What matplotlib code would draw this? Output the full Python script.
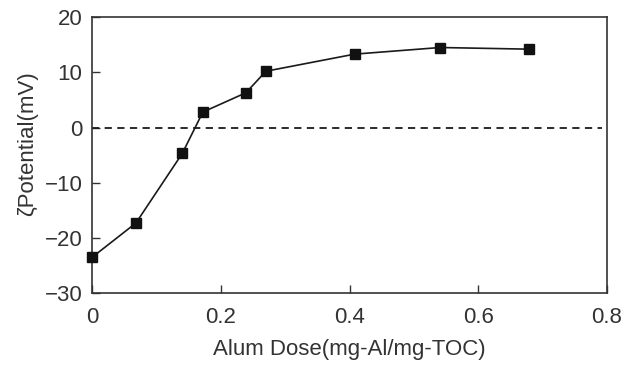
import matplotlib
matplotlib.use('Agg')
import matplotlib.pyplot as plt

# data
alum_dose = [0.0, 0.068, 0.140, 0.172, 0.239, 0.270, 0.408, 0.541, 0.679]
zeta_mv = [-23.5, -17.3, -4.7, 2.8, 6.3, 10.2, 13.3, 14.5, 14.2]

xticks = [0, 0.2, 0.4, 0.6, 0.8]
xtick_labels = ['0', '0.2', '0.4', '0.6', '0.8']
yticks = [-30, -20, -10, 0, 10, 20]
ytick_labels = ['\u221230', '\u221220', '\u221210', '0', '10', '20']

plt.rcParams['font.family'] = ['Liberation Sans', 'DejaVu Sans']
text_col = '#333333'

fig = plt.figure(figsize=(6.23, 3.65), dpi=100)
ax = fig.add_axes([0.148, 0.197, 0.826, 0.756])

ax.plot(alum_dose, zeta_mv, color='#1a1a1a', lw=1.2, marker='s',
        markersize=7, markerfacecolor='#111111', markeredgecolor='#111111',
        clip_on=False, zorder=3)
ax.axhline(0, color='#1a1a1a', lw=1.3, ls=(0, (4, 3)), xmin=0, xmax=0.99)

ax.set_xlim(0, 0.8)
ax.set_ylim(-30, 20)
ax.set_xticks(xticks)
ax.set_xticklabels(xtick_labels)
ax.set_yticks(yticks)
ax.set_yticklabels(ytick_labels)
ax.tick_params(direction='in', length=6, width=1, colors='#333333',
               labelsize=16, labelcolor=text_col)
ax.tick_params(axis='x', pad=10)
ax.tick_params(axis='y', pad=7)

for sp in ax.spines.values():
    sp.set_color('#333333')
    sp.set_linewidth(1.2)

ax.set_xlabel('Alum Dose(mg-Al/mg-TOC)', fontsize=16, color=text_col, labelpad=8)
ax.set_ylabel('\u03b6Potential(mV)', fontsize=16, color=text_col)
ax.yaxis.set_label_coords(-0.106, 0.54)

fig.savefig('out.png', dpi=100)
